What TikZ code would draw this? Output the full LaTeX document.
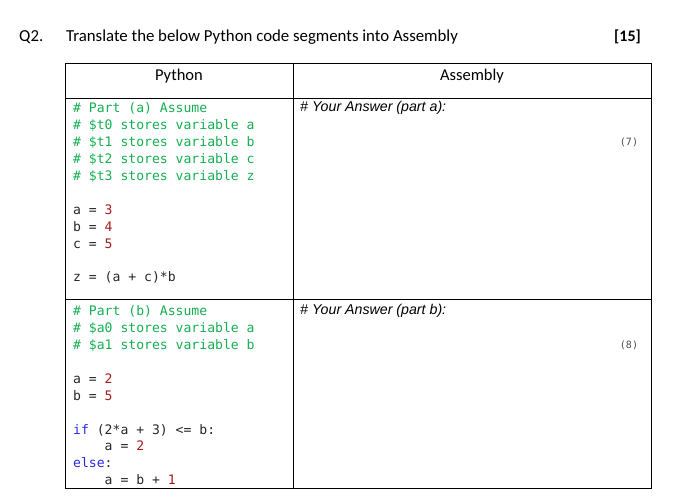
\documentclass[tikz,border=0pt]{standalone}
\usepackage{fontspec}
\setmainfont{Carlito}
\setmonofont{DejaVu Sans Mono}
\newfontfamily\arialf{Liberation Sans}
\definecolor{cgreen}{RGB}{20,175,80}
\definecolor{cred}{RGB}{165,25,25}
\definecolor{cblue}{RGB}{40,40,235}
\newcommand{\cmtxt}[1]{\textcolor{cgreen}{#1}}
\newcommand{\nmtxt}[1]{\textcolor{cred}{#1}}
\newcommand{\kwtxt}[1]{\textcolor{cblue}{#1}}
\begin{document}
\begin{tikzpicture}[x=1pt,y=-1pt,
  code/.style={anchor=west,inner sep=0pt,font=\fontsize{13.1}{14}\ttfamily,text=black!85},
  hdr/.style={inner sep=0pt,font=\fontsize{16.5}{17}\selectfont},
  ans/.style={anchor=west,inner sep=0pt,font=\fontsize{14.2}{15}\arialf\itshape},
  marktxt/.style={inner sep=0pt,font=\fontsize{10}{11}\ttfamily,text=black!70},
  ttl/.style={anchor=west,inner sep=0pt,font=\fontsize{16.8}{17}\selectfont}]
\useasboundingbox (0,0) rectangle (681,504);
\node[ttl] (q) at (19,37) {Q2.};
\node[ttl] (t) at (66,37) {Translate the below Python code segments into Assembly};
\node[ttl,font=\fontsize{16}{17}\bfseries] (m) at (614,37) {[15]};
\draw[line width=0.9pt] (65,63) rectangle (651,488);
\draw[line width=0.9pt] (293,63) -- (293,488);
\draw[line width=0.9pt] (65,98) -- (651,98);
\draw[line width=0.9pt] (65,299) -- (651,299);
\node[hdr] (hp) at (179,76) {Python};
\node[hdr] (ha) at (472,76) {Assembly};
\node[code] (a1) at (73,108) {\cmtxt{\# Part (a) Assume}};
\node[code] (a2) at (73,125) {\cmtxt{\# \$t0 stores variable a}};
\node[code] (a3) at (73,142) {\cmtxt{\# \$t1 stores variable b}};
\node[code] (a4) at (73,159) {\cmtxt{\# \$t2 stores variable c}};
\node[code] (a5) at (73,176) {\cmtxt{\# \$t3 stores variable z}};
\node[code] (a6) at (73,210) {a = \nmtxt{3}};
\node[code] (a7) at (73,227) {b = \nmtxt{4}};
\node[code] (a8) at (73,244) {c = \nmtxt{5}};
\node[code] (a9) at (73,277) {z = (a + c)*b};
\node[code] (b1) at (73,311) {\cmtxt{\# Part (b) Assume}};
\node[code] (b2) at (73,328) {\cmtxt{\# \$a0 stores variable a}};
\node[code] (b3) at (73,345) {\cmtxt{\# \$a1 stores variable b}};
\node[code] (b4) at (73,379) {a = \nmtxt{2}};
\node[code] (b5) at (73,396) {b = \nmtxt{5}};
\node[code] (b6) at (73,430) {\kwtxt{if} (2*a + 3) <= b:};
\node[code] (b7) at (73,446) {\phantom{xxxx}a = \nmtxt{2}};
\node[code] (b8) at (73,463) {\kwtxt{else}:};
\node[code] (b9) at (73,480) {\phantom{xxxx}a = b + \nmtxt{1}};
\node[ans] (pa) at (300,108) {\# Your Answer (part a):};
\node[ans] (pb) at (300,311) {\# Your Answer (part b):};
\node[marktxt] (m7) at (629,142) {(7)};
\node[marktxt] (m8) at (629,345) {(8)};
\end{tikzpicture}
\end{document}
